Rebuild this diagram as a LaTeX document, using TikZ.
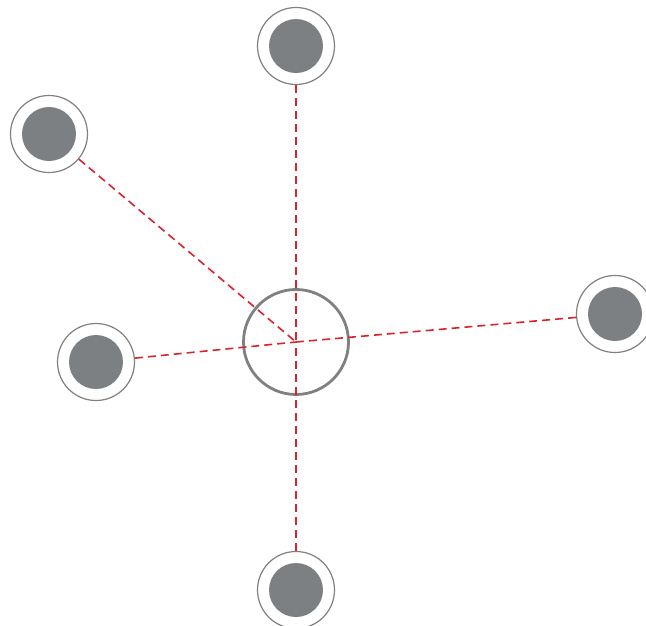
\documentclass[tikz,border=0pt]{standalone}
\definecolor{ringgray}{HTML}{808080}
\definecolor{dotgray}{HTML}{7D8083}
\definecolor{linkred}{HTML}{D9232D}
\begin{document}
\begin{tikzpicture}[x=1pt,y=-1pt,
  ring/.style={circle,draw=ringgray,line width=1.2pt,minimum size=77pt,inner sep=0pt},
  dot/.style={circle,fill=dotgray,minimum size=54pt,inner sep=0pt},
  hub/.style={circle,draw=ringgray,line width=2.8pt,minimum size=105pt,inner sep=0pt},
  link/.style={draw=linkred,line width=1.6pt,dash pattern=on 8pt off 5pt}]
\useasboundingbox (0,0) rectangle (646,625);
\node[hub] (c) at (296,342) {};
\foreach \n/\x/\y in {t/296/46, ul/49/134, l/96/362, r/615/314, b/296/590}{
  \node[ring] (\n) at (\x,\y) {};
  \node[dot] (\n d) at (\x,\y) {};
}
\foreach \n in {t,ul,l,r,b}{
  \draw[link] (\n) -- (c.center);
}
\end{tikzpicture}
\end{document}
